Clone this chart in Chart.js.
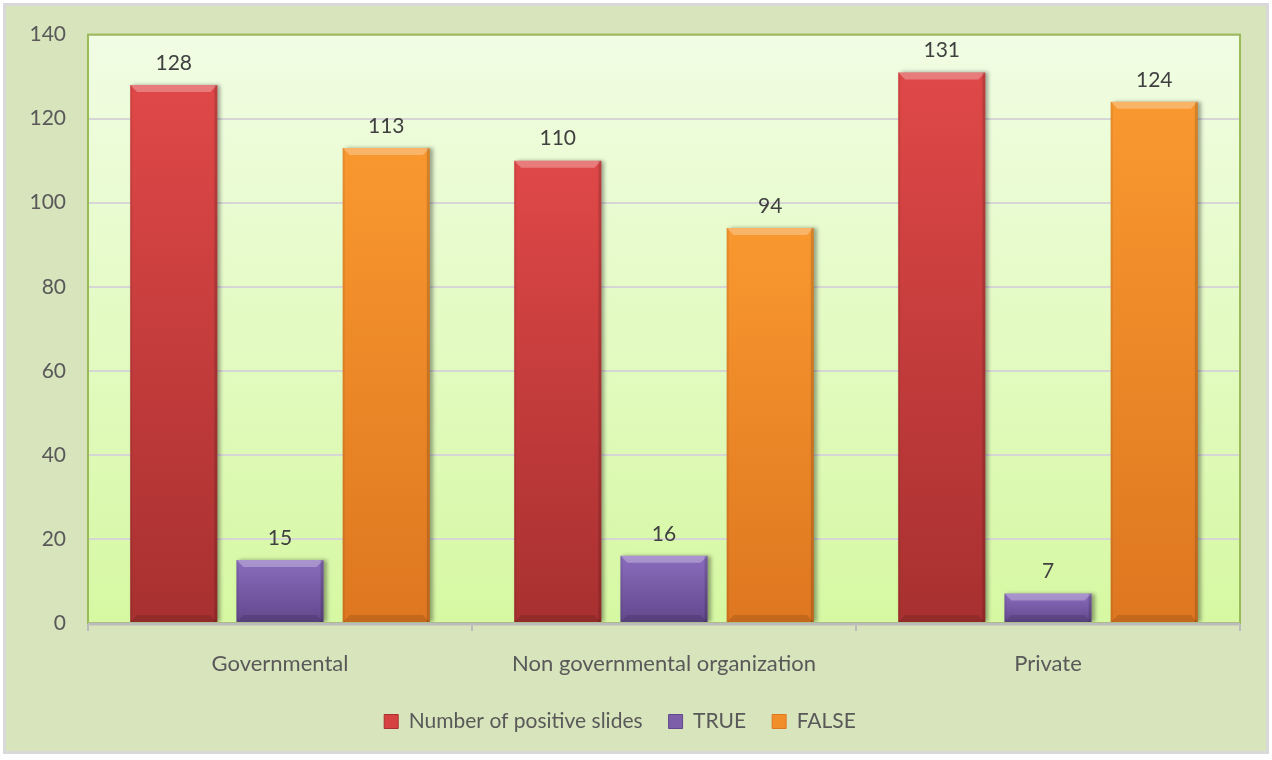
<!DOCTYPE html>
<html>
<head>
<meta charset="utf-8">
<script src="https://cdn.jsdelivr.net/npm/chart.js@4.4.1/dist/chart.umd.min.js"></script>
<style>
  html, body { margin: 0; padding: 0; background: #fff; }
  #wrap { width: 1272px; height: 760px; }
</style>
</head>
<body>
<div id="wrap"><canvas id="myChart" width="1272" height="760"></canvas></div>
<script>
const categories = ['Governmental', 'Non governmental organization', 'Private'];
const positives = [128, 110, 131];
const trues = [15, 16, 7];
const falses = [113, 94, 124];
const yTicks = [0, 20, 40, 60, 80, 100, 120, 140];

// [base, top, bottom]
const red = ['#d64242', '#e04848', '#a83030'];
const purple = ['#7c5fa8', '#8a6cbd', '#62488c'];
const orange = ['#f28e2a', '#f9982f', '#de7720'];

function barFill(cols) {
  return (c) => {
    const chart = c.chart;
    if (!chart.chartArea || c.type !== 'data') return cols[0];
    const y = chart.scales.y;
    const top = y.getPixelForValue(c.raw);
    const bot = y.getPixelForValue(0);
    const g = chart.ctx.createLinearGradient(0, top, 0, bot);
    g.addColorStop(0, cols[1]);
    g.addColorStop(1, cols[2]);
    return g;
  };
}

const frame = {
  id: 'frame',
  beforeDraw(chart) {
    const { ctx, chartArea: a, width, height } = chart;
    ctx.save();
    ctx.fillStyle = '#ffffff';
    ctx.fillRect(0, 0, width, height);
    ctx.fillStyle = '#d9d9d9';
    ctx.fillRect(3, 3, width - 6, height - 9);
    ctx.fillStyle = '#d8e4bc';
    ctx.fillRect(6, 6, width - 12, height - 15);
    const g = ctx.createLinearGradient(0, a.top, 0, a.bottom);
    g.addColorStop(0, '#f1fde4');
    g.addColorStop(1, '#d6f8a2');
    ctx.fillStyle = g;
    ctx.fillRect(a.left, a.top, a.right - a.left, a.bottom - a.top);
    ctx.restore();
  },
  beforeDatasetsDraw(chart) {
    const { ctx } = chart;
    ctx.save();
    ctx.shadowColor = 'rgba(0,0,0,0.35)';
    ctx.shadowOffsetX = 3;
    ctx.shadowOffsetY = 0;
    ctx.shadowBlur = 4;
  },
  afterDatasetsDraw(chart) {
    const { ctx, chartArea: a } = chart;
    ctx.restore();
    ctx.save();
    // bevel on each bar
    chart.data.datasets.forEach((ds, i) => {
      chart.getDatasetMeta(i).data.forEach((bar) => {
        const l = bar.x - bar.width / 2, r = bar.x + bar.width / 2;
        const t = bar.y, b = bar.base, d = 7;
        ctx.fillStyle = 'rgba(255,255,255,0.28)';
        ctx.beginPath();
        ctx.moveTo(l, t); ctx.lineTo(r, t); ctx.lineTo(r - d, t + d); ctx.lineTo(l + d, t + d);
        ctx.closePath(); ctx.fill();
        ctx.fillStyle = 'rgba(0,0,0,0.12)';
        ctx.beginPath();
        ctx.moveTo(l, b); ctx.lineTo(r, b); ctx.lineTo(r - d, b - d); ctx.lineTo(l + d, b - d);
        ctx.closePath(); ctx.fill();
        ctx.fillStyle = 'rgba(0,0,0,0.15)';
        ctx.fillRect(r - 3, t, 3, b - t);
        ctx.fillStyle = 'rgba(0,0,0,0.08)';
        ctx.fillRect(l, t, 2, b - t);
      });
    });
    // plot border and base line
    ctx.strokeStyle = '#9bbb59';
    ctx.lineWidth = 2;
    ctx.strokeRect(a.left, a.top, a.right - a.left, a.bottom - a.top);
    ctx.strokeStyle = '#bcbcbc';
    ctx.lineWidth = 3;
    ctx.beginPath();
    ctx.moveTo(a.left, a.bottom + 1);
    ctx.lineTo(a.right, a.bottom + 1);
    ctx.stroke();
    // value labels
    ctx.fillStyle = '#404040';
    ctx.font = '21px Lato';
    ctx.textAlign = 'center';
    ctx.textBaseline = 'middle';
    chart.data.datasets.forEach((ds, i) => {
      chart.getDatasetMeta(i).data.forEach((bar, j) => {
        ctx.fillText(String(ds.data[j]), bar.x, bar.y - 22);
      });
    });
    ctx.restore();
  }
};

const ctx = document.getElementById('myChart');

new Chart(ctx, {
  type: 'bar',
  data: {
    labels: categories,
    datasets: [{
      label: 'Number of positive slides',
      data: positives,
      backgroundColor: barFill(red),
      borderWidth: 0,
    }, {
      label: 'TRUE',
      data: trues,
      backgroundColor: barFill(purple),
      borderWidth: 0,
    }, {
      label: 'FALSE',
      data: falses,
      backgroundColor: barFill(orange),
      borderWidth: 0,
    }]
  },
  options: {
    responsive: false,
    animation: false,
    layout: { padding: { left: 0, right: 32, top: 32, bottom: 18 } },
    datasets: { bar: { categoryPercentage: 0.83, barPercentage: 0.82 } },
    plugins: {
      tooltip: { enabled: false },
      legend: {
        position: 'bottom',
        labels: {
          boxWidth: 14,
          boxHeight: 14,
          padding: 26,
          color: '#595959',
          font: { family: 'Lato', size: 21 },
          generateLabels(chart) {
            const cols = [red, purple, orange];
            return chart.data.datasets.map((ds, i) => ({
              text: ds.label,
              fillStyle: cols[i][0],
              strokeStyle: cols[i][2],
              lineWidth: 1,
              datasetIndex: i,
              fontColor: '#595959',
            }));
          }
        }
      }
    },
    scales: {
      x: {
        offset: true,
        grid: { offset: true, drawOnChartArea: false, drawTicks: true, tickLength: 8, color: '#bcbcbc', lineWidth: 2 },
        border: { display: false },
        ticks: { color: '#595959', padding: 20, font: { family: 'Lato', size: 22 } },
        afterFit(scale) { scale.height = 62; }
      },
      y: {
        min: 0,
        max: 140,
        afterBuildTicks(scale) { scale.ticks = yTicks.map(v => ({ value: v })); },
        grid: { color: '#d6d6d6', lineWidth: 2, drawTicks: false },
        border: { display: false },
        ticks: { color: '#595959', padding: 22, font: { family: 'Lato', size: 21 } },
        afterFit(scale) { scale.width = 88; }
      }
    }
  },
  plugins: [frame]
});
</script>
</body>
</html>
